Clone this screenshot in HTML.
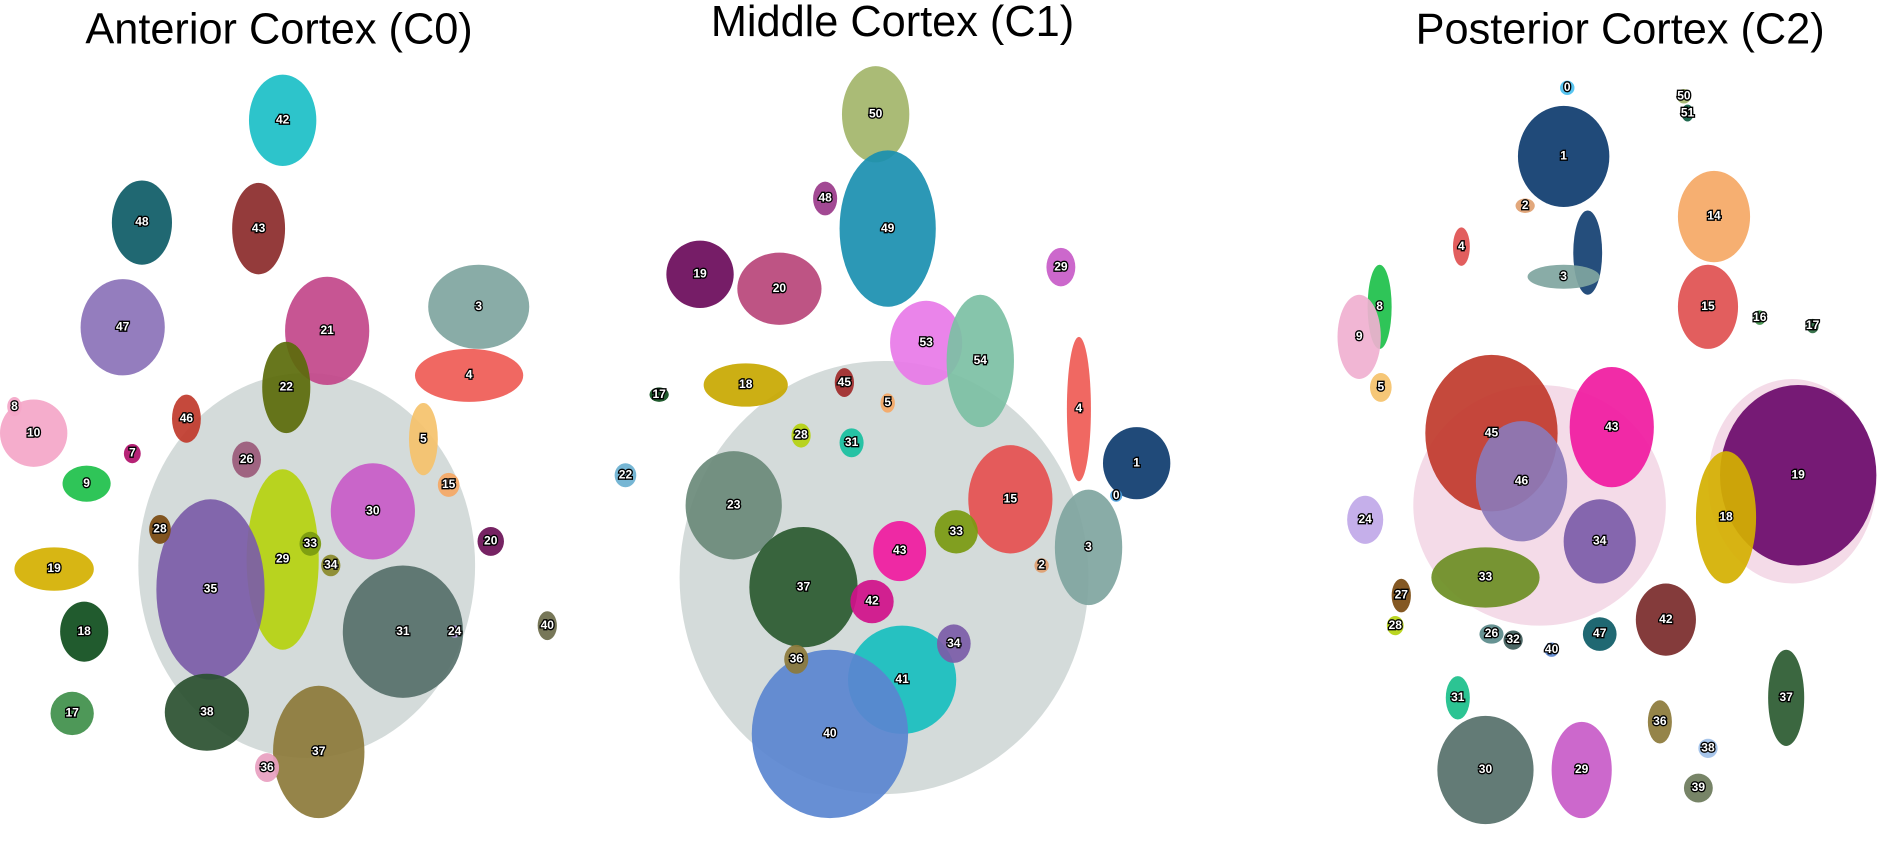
<!DOCTYPE html>
<html><head><meta charset="utf-8"><style>
html,body{margin:0;padding:0;background:#fff;width:1886px;height:847px;overflow:hidden}
svg{display:block}
.t{font-family:"Liberation Sans",sans-serif;font-size:36px;fill:#000;text-anchor:middle}
.l{font-family:"Liberation Sans",sans-serif;font-size:10px;fill:#fff;stroke:#000;stroke-width:2.2px;paint-order:stroke;text-anchor:middle;dominant-baseline:middle;font-weight:bold}
</style></head><body>
<svg id="chart" width="1886" height="847" viewBox="0 0 1568 704" preserveAspectRatio="none" xmlns="http://www.w3.org/2000/svg">
<text class="t" x="232" y="36">Anterior Cortex (C0)</text>
<text class="t" x="742" y="30">Middle Cortex (C1)</text>
<text class="t" x="1347" y="36">Posterior Cortex (C2)</text>
<g id="bg"></g><g id="cl"></g><g id="lb"></g>
</svg>
<script>
// background clouds: cx, cy, rx, ry, color
const bgX=[255,735,1280,1490,1320];
const bgY=[470,480,420,400,210];
const bgRX=[140,170,105,70,12];
const bgRY=[160,180,100,85,35];
const bgC=["#3d5a58","#3d5a58","#e3a5c5","#e3a5c5","#0d3b6e"];
const bgO=[0.22,0.22,0.4,0.4,0.9];
// clusters
const labels=["42","48","43","47","21","3","4","5","22","46","10","9","7","26","30","29","35","28","33","34","31","24","20","19","18","17","38","37","36","40","15","8",
"50","49","48","19","20","53","54","29","18","17","45","4","1","3","15","23","22","37","43","42","33","41","40","34","36","31","28","5","2","0",
"1","3","14","15","4","8","9","5","45","43","46","34","19","18","24","33","27","28","42","47","37","30","31","29","36","38","39","2","0","50","51","16","17","26","32","40"];
const cx=[235,118,215,102,272,398,390,352,238,155,28,72,110,205,310,235,175,133,258,275,335,378,408,45,70,60,172,265,222,455,373,12,
728,738,686,582,648,770,815,882,620,548,702,897,945,905,840,610,520,668,748,725,795,750,690,793,662,708,666,738,866,928,
1300,1300,1425,1420,1215,1147,1130,1148,1240,1340,1265,1330,1495,1435,1135,1235,1165,1160,1385,1330,1485,1235,1212,1315,1380,1420,1412,1268,1303,1400,1403,1463,1507,1240,1258,1290];
const cy=[100,185,190,272,275,255,312,365,322,348,360,402,377,382,425,465,490,440,452,470,525,525,450,473,525,593,592,625,638,520,403,338,
95,190,165,228,240,285,300,222,320,328,318,340,385,455,415,420,395,488,458,500,442,565,610,535,548,368,362,335,470,412,
130,230,180,255,205,255,280,322,360,355,400,450,395,430,432,480,495,520,515,527,580,640,580,640,600,622,655,171,73,80,94,264,271,527,532,540];
const rx=[28,25,22,35,35,42,45,12,20,12,28,20,7,12,35,30,45,9,9,8,50,5,11,33,20,18,35,38,10,8,9,6,
28,40,10,28,35,30,28,12,35,8,8,10,28,28,35,40,9,45,22,18,18,45,65,14,10,10,8,6,6,5,
38,30,30,25,7,10,18,9,55,35,38,30,65,25,15,45,8,7,25,14,15,40,10,25,10,8,12,8,6,6,5,5,5,10,8,6];
const ry=[38,35,38,40,45,35,22,30,38,20,28,15,8,15,40,75,75,12,10,9,55,5,12,18,25,18,32,55,12,12,10,8,
40,65,14,28,30,35,55,16,18,6,12,60,30,48,45,45,10,50,25,18,18,45,70,16,12,12,10,8,6,5,
42,10,38,35,16,35,35,12,65,50,50,35,75,55,20,25,14,8,30,14,40,45,18,40,18,8,12,6,6,6,7,6,6,8,8,6];
const colors=["#1bbfc7","#0d5b66","#8b2a2a","#8b72b8","#c2478a","#7fa5a0","#ef5b55","#f5c26b","#5b6b0a","#c0392b","#f4a6c8","#1dc04a","#b0106a","#9a5a7a","#c85bc8","#b5d20f","#7b5ca8","#7a4a10","#7a9a10","#8a8a2a","#56706a","#c0a8e8","#6a1056","#d4b000","#0e4d1c","#3f8f4a","#2a5030","#8c7a3a","#e8a0c0","#6b6b4a","#f5a865","#f4a6c8",
"#a3b56a","#1a8fb0","#9a3a8a","#6a0a5a","#b8457a","#e87ae8","#7cc0a4","#c85bc8","#c8a800","#0e4d1c","#a02a2a","#ef5b55","#0d3b6e","#7fa5a0","#e55050","#6a8a7a","#6ab0d0","#2a5a30","#f01aa0","#d0108a","#7a9a10","#17bfbf","#5a85d0","#7b5ca8","#8c7a3a","#17c0a0","#b5d20f","#f5a865","#e0a070","#4aa0e0",
"#0d3b6e","#7fa5a0","#f5a865","#e05050","#e05050","#1dc04a","#f0b0d0","#f5c26b","#c0392b","#f01aa0","#8b7ab8","#7b5ca8","#6a0a6a","#d4b000","#c0a8e8","#6b8e23","#7a4a10","#b5d20f","#7a2a2a","#0d5b66","#2a5a30","#56706a","#1abf8a","#c85bc8","#8c7a3a","#a0c0e8","#6b7a5a","#e0a070","#4ac0f0","#a3b56a","#0d5b40","#3f8f4a","#2a6a40","#5a8a8a","#3d5a58","#5a85d0"];
const NS="http://www.w3.org/2000/svg";
const bg=document.getElementById('bg'),cl=document.getElementById('cl'),lb=document.getElementById('lb');
for(let i=0;i<bgX.length;i++){
  const e=document.createElementNS(NS,'ellipse');
  e.setAttribute('cx',bgX[i]);e.setAttribute('cy',bgY[i]);e.setAttribute('rx',bgRX[i]);e.setAttribute('ry',bgRY[i]);
  e.setAttribute('fill',bgC[i]);e.setAttribute('opacity',bgO[i]);
  
  
  bg.appendChild(e);
}
for(let i=0;i<labels.length;i++){
  const e=document.createElementNS(NS,'ellipse');
  e.setAttribute('cx',cx[i]);e.setAttribute('cy',cy[i]);e.setAttribute('rx',rx[i]);e.setAttribute('ry',ry[i]);
  e.setAttribute('fill',colors[i]);e.setAttribute('opacity',0.92);
  
  
  cl.appendChild(e);
  const t=document.createElementNS(NS,'text');
  t.setAttribute('x',cx[i]);t.setAttribute('y',cy[i]);t.setAttribute('class','l');t.textContent=labels[i];
  
  
  lb.appendChild(t);
}
</script>
</body></html>
